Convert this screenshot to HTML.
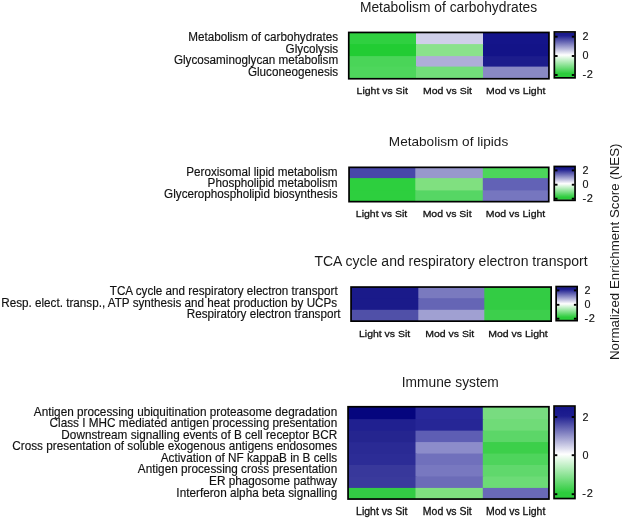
<!DOCTYPE html><html><head><meta charset="utf-8"><style>html,body{margin:0;padding:0;background:#fff;}svg{display:block;filter:blur(0.35px)}text{fill:#111;stroke:#111;stroke-width:0.15px}text.cl{stroke-width:0.3px}text.ti{stroke-width:0;fill:#1a1a1a}</style></head><body>
<svg width="623" height="518" viewBox="0 0 623 518" font-family='"Liberation Sans", sans-serif' >
<defs><linearGradient id="g0" x1="0" y1="0" x2="0" y2="1"><stop offset="0" stop-color="#16168a"/><stop offset="0.0714" stop-color="#1e1e90"/><stop offset="0.5022" stop-color="#ffffff"/><stop offset="0.9152" stop-color="#2ccc3c"/><stop offset="1" stop-color="#2ccc3c"/></linearGradient><linearGradient id="g1" x1="0" y1="0" x2="0" y2="1"><stop offset="0" stop-color="#16168a"/><stop offset="0.0732" stop-color="#1e1e90"/><stop offset="0.5091" stop-color="#ffffff"/><stop offset="0.9207" stop-color="#2ccc3c"/><stop offset="1" stop-color="#2ccc3c"/></linearGradient><linearGradient id="g2" x1="0" y1="0" x2="0" y2="1"><stop offset="0" stop-color="#16168a"/><stop offset="0.0697" stop-color="#1e1e90"/><stop offset="0.5061" stop-color="#ffffff"/><stop offset="0.9121" stop-color="#2ccc3c"/><stop offset="1" stop-color="#2ccc3c"/></linearGradient><linearGradient id="g3" x1="0" y1="0" x2="0" y2="1"><stop offset="0" stop-color="#16168a"/><stop offset="0.1028" stop-color="#1e1e90"/><stop offset="0.5208" stop-color="#ffffff"/><stop offset="0.9420" stop-color="#2ccc3c"/><stop offset="1" stop-color="#2ccc3c"/></linearGradient></defs>
<text class="ti" x="448.5" y="12.0" font-size="13.8" text-anchor="middle">Metabolism of carbohydrates</text>
<text transform="translate(338.2,41.4) scale(1,1.03)" font-size="11.7" text-anchor="end">Metabolism of carbohydrates</text>
<text transform="translate(338.2,53.0) scale(1,1.03)" font-size="11.7" text-anchor="end">Glycolysis</text>
<text transform="translate(338.2,64.4) scale(1,1.03)" font-size="11.7" text-anchor="end">Glycosaminoglycan metabolism</text>
<text transform="translate(338.2,75.6) scale(1,1.03)" font-size="11.7" text-anchor="end">Gluconeogenesis</text>
<rect x="349" y="33" width="68.00" height="45.60" fill="#2fd040"/>
<rect x="416" y="33" width="68.00" height="45.60" fill="#cfcfe9"/>
<rect x="483" y="33" width="66.00" height="45.60" fill="#14148a"/>
<rect x="349" y="44.1" width="68.00" height="34.50" fill="#22cc33"/>
<rect x="416" y="44.1" width="68.00" height="34.50" fill="#8ae28c"/>
<rect x="483" y="44.1" width="66.00" height="34.50" fill="#131388"/>
<rect x="349" y="56.1" width="68.00" height="22.50" fill="#4ad558"/>
<rect x="416" y="56.1" width="68.00" height="22.50" fill="#aeaed8"/>
<rect x="483" y="56.1" width="66.00" height="22.50" fill="#1c1c8c"/>
<rect x="349" y="66.6" width="68.00" height="12.00" fill="#4ed65c"/>
<rect x="416" y="66.6" width="68.00" height="12.00" fill="#72dd7a"/>
<rect x="483" y="66.6" width="66.00" height="12.00" fill="#8989c4"/>
<rect x="348.75" y="32.45" width="200.20" height="46.30" fill="none" stroke="#000" stroke-width="1.7"/>
<text transform="translate(382.20,94) scale(1,0.92)" class="cl" font-size="10.5" text-anchor="middle">Light vs Sit</text>
<text transform="translate(447.40,94) scale(1,0.92)" class="cl" font-size="10.5" text-anchor="middle">Mod vs Sit</text>
<text transform="translate(515.70,94) scale(1,0.92)" class="cl" font-size="10.5" text-anchor="middle">Mod vs Light</text>
<rect x="554.50" y="32.50" width="20.40" height="44.80" fill="url(#g0)"/>
<rect x="554.35" y="31.95" width="20.70" height="45.90" fill="none" stroke="#000" stroke-width="1.7"/>
<line x1="555.0" y1="36.7" x2="557.60" y2="36.7" stroke="#000" stroke-width="1.9"/>
<line x1="571.80" y1="36.7" x2="574.4" y2="36.7" stroke="#000" stroke-width="1.9"/>
<line x1="555.0" y1="56" x2="557.60" y2="56" stroke="#000" stroke-width="1.9"/>
<line x1="571.80" y1="56" x2="574.4" y2="56" stroke="#000" stroke-width="1.9"/>
<line x1="555.0" y1="75" x2="557.60" y2="75" stroke="#000" stroke-width="1.9"/>
<line x1="571.80" y1="75" x2="574.4" y2="75" stroke="#000" stroke-width="1.9"/>
<text x="582.50" y="39.90" font-size="10.8">2</text>
<text x="582.50" y="58.90" font-size="10.8">0</text>
<text x="582.40" y="78.30" font-size="11" letter-spacing="0.7">-2</text>
<text class="ti" x="448.5" y="146" font-size="13.6" text-anchor="middle">Metabolism of lipids</text>
<text transform="translate(337.5,175.6) scale(1,1.03)" font-size="11.7" text-anchor="end">Peroxisomal lipid metabolism</text>
<text transform="translate(337.5,187.4) scale(1,1.03)" font-size="11.7" text-anchor="end">Phospholipid metabolism</text>
<text transform="translate(337.5,198.3) scale(1,1.03)" font-size="11.7" text-anchor="end">Glycerophospholipid biosynthesis</text>
<rect x="349" y="167.5" width="67.30" height="34.00" fill="#4848a9"/>
<rect x="415.3" y="167.5" width="68.50" height="34.00" fill="#9898cc"/>
<rect x="482.8" y="167.5" width="66.20" height="34.00" fill="#4cd65b"/>
<rect x="349" y="178.1" width="67.30" height="23.40" fill="#2dcf3e"/>
<rect x="415.3" y="178.1" width="68.50" height="23.40" fill="#80e080"/>
<rect x="482.8" y="178.1" width="66.20" height="23.40" fill="#6262b6"/>
<rect x="349" y="190.4" width="67.30" height="11.10" fill="#2dcf3e"/>
<rect x="415.3" y="190.4" width="68.50" height="11.10" fill="#56d664"/>
<rect x="482.8" y="190.4" width="66.20" height="11.10" fill="#7676bf"/>
<rect x="349.05" y="167.35" width="199.70" height="34.30" fill="none" stroke="#000" stroke-width="1.7"/>
<text transform="translate(381.50,217.1) scale(1,0.92)" class="cl" font-size="10.5" text-anchor="middle">Light vs Sit</text>
<text transform="translate(447.10,217.1) scale(1,0.92)" class="cl" font-size="10.5" text-anchor="middle">Mod vs Sit</text>
<text transform="translate(515.50,217.1) scale(1,0.92)" class="cl" font-size="10.5" text-anchor="middle">Mod vs Light</text>
<rect x="554.40" y="167.00" width="20.50" height="32.80" fill="url(#g1)"/>
<rect x="554.25" y="166.45" width="20.80" height="33.90" fill="none" stroke="#000" stroke-width="1.7"/>
<line x1="554.9" y1="170.4" x2="557.50" y2="170.4" stroke="#000" stroke-width="1.9"/>
<line x1="571.80" y1="170.4" x2="574.4" y2="170.4" stroke="#000" stroke-width="1.9"/>
<line x1="554.9" y1="184.7" x2="557.50" y2="184.7" stroke="#000" stroke-width="1.9"/>
<line x1="571.80" y1="184.7" x2="574.4" y2="184.7" stroke="#000" stroke-width="1.9"/>
<line x1="554.9" y1="198.7" x2="557.50" y2="198.7" stroke="#000" stroke-width="1.9"/>
<line x1="571.80" y1="198.7" x2="574.4" y2="198.7" stroke="#000" stroke-width="1.9"/>
<text x="582.50" y="173.80" font-size="10.8">2</text>
<text x="582.50" y="187.60" font-size="10.8">0</text>
<text x="582.40" y="201.70" font-size="11" letter-spacing="0.7">-2</text>
<text class="ti" x="451" y="265.8" font-size="14.0" text-anchor="middle">TCA cycle and respiratory electron transport</text>
<text transform="translate(337.7,295.4) scale(1,1.03)" font-size="11.7" text-anchor="end">TCA cycle and respiratory electron transport</text>
<text transform="translate(337.2,306.5) scale(1,1.03)" font-size="11.7" text-anchor="end">Resp. elect. transp., ATP synthesis and heat production by UCPs</text>
<text transform="translate(340.6,318) scale(1,1.03)" font-size="11.7" text-anchor="end">Respiratory electron transport</text>
<rect x="351" y="287" width="68.30" height="34.00" fill="#1a1a8a"/>
<rect x="418.3" y="287" width="67.00" height="34.00" fill="#7a7abf"/>
<rect x="484.3" y="287" width="66.70" height="34.00" fill="#33cc44"/>
<rect x="351" y="298.2" width="68.30" height="22.80" fill="#1a1a8a"/>
<rect x="418.3" y="298.2" width="67.00" height="22.80" fill="#6565b5"/>
<rect x="484.3" y="298.2" width="66.70" height="22.80" fill="#33cc44"/>
<rect x="351" y="309.8" width="68.30" height="11.20" fill="#5050a8"/>
<rect x="418.3" y="309.8" width="67.00" height="11.20" fill="#a0a0d2"/>
<rect x="484.3" y="309.8" width="66.70" height="11.20" fill="#3dcf4c"/>
<rect x="351.05" y="287.05" width="200.10" height="34.10" fill="none" stroke="#000" stroke-width="1.7"/>
<text transform="translate(384.60,337.1) scale(1,0.9)" class="cl" font-size="10.5" text-anchor="middle">Light vs Sit</text>
<text transform="translate(449.70,337.1) scale(1,0.9)" class="cl" font-size="10.5" text-anchor="middle">Mod vs Sit</text>
<text transform="translate(518.00,337.1) scale(1,0.9)" class="cl" font-size="10.5" text-anchor="middle">Mod vs Light</text>
<rect x="556.30" y="287.10" width="20.70" height="33.00" fill="url(#g2)"/>
<rect x="556.15" y="286.55" width="21.00" height="34.10" fill="none" stroke="#000" stroke-width="1.7"/>
<line x1="556.8" y1="290.4" x2="559.40" y2="290.4" stroke="#000" stroke-width="1.9"/>
<line x1="573.90" y1="290.4" x2="576.5" y2="290.4" stroke="#000" stroke-width="1.9"/>
<line x1="556.8" y1="304.8" x2="559.40" y2="304.8" stroke="#000" stroke-width="1.9"/>
<line x1="573.90" y1="304.8" x2="576.5" y2="304.8" stroke="#000" stroke-width="1.9"/>
<line x1="556.8" y1="318.7" x2="559.40" y2="318.7" stroke="#000" stroke-width="1.9"/>
<line x1="573.90" y1="318.7" x2="576.5" y2="318.7" stroke="#000" stroke-width="1.9"/>
<text x="584.60" y="293.70" font-size="10.8">2</text>
<text x="584.60" y="307.70" font-size="10.8">0</text>
<text x="584.50" y="321.60" font-size="11" letter-spacing="0.7">-2</text>
<text class="ti" x="450.3" y="386.8" font-size="13.75" text-anchor="middle">Immune system</text>
<text transform="translate(337.2,415.8) scale(1,1.03)" font-size="11.77" text-anchor="end">Antigen processing ubiquitination proteasome degradation</text>
<text transform="translate(337.2,427.2) scale(1,1.03)" font-size="11.77" text-anchor="end">Class I MHC mediated antigen processing presentation</text>
<text transform="translate(337.2,438.8) scale(1,1.03)" font-size="11.77" text-anchor="end">Downstream signalling events of B cell receptor BCR</text>
<text transform="translate(337.2,450.3) scale(1,1.03)" font-size="11.77" text-anchor="end">Cross presentation of soluble exogenous antigens endosomes</text>
<text transform="translate(337.2,461.8) scale(1,1.03)" font-size="11.77" text-anchor="end">Activation of NF kappaB in B cells</text>
<text transform="translate(337.2,473.4) scale(1,1.03)" font-size="11.77" text-anchor="end">Antigen processing cross presentation</text>
<text transform="translate(337.2,484.8) scale(1,1.03)" font-size="11.77" text-anchor="end">ER phagosome pathway</text>
<text transform="translate(337.2,496.6) scale(1,1.03)" font-size="11.77" text-anchor="end">Interferon alpha beta signalling</text>
<rect x="348" y="406.7" width="68.50" height="92.30" fill="#05057e"/>
<rect x="415.5" y="406.7" width="68.30" height="92.30" fill="#28289a"/>
<rect x="482.8" y="406.7" width="66.20" height="92.30" fill="#78dc80"/>
<rect x="348" y="419.15999999999997" width="68.50" height="79.84" fill="#202090"/>
<rect x="415.5" y="419.15999999999997" width="68.30" height="79.84" fill="#262696"/>
<rect x="482.8" y="419.15999999999997" width="66.20" height="79.84" fill="#70db78"/>
<rect x="348" y="430.62" width="68.50" height="68.38" fill="#25258f"/>
<rect x="415.5" y="430.62" width="68.30" height="68.38" fill="#5e5eb4"/>
<rect x="482.8" y="430.62" width="66.20" height="68.38" fill="#5cd668"/>
<rect x="348" y="442.08" width="68.50" height="56.92" fill="#2a2a94"/>
<rect x="415.5" y="442.08" width="68.30" height="56.92" fill="#8c8cca"/>
<rect x="482.8" y="442.08" width="66.20" height="56.92" fill="#3ccf4a"/>
<rect x="348" y="453.53999999999996" width="68.50" height="45.46" fill="#2c2c96"/>
<rect x="415.5" y="453.53999999999996" width="68.30" height="45.46" fill="#7070bc"/>
<rect x="482.8" y="453.53999999999996" width="66.20" height="45.46" fill="#4ed45c"/>
<rect x="348" y="465.0" width="68.50" height="34.00" fill="#38389b"/>
<rect x="415.5" y="465.0" width="68.30" height="34.00" fill="#7878c0"/>
<rect x="482.8" y="465.0" width="66.20" height="34.00" fill="#60d86c"/>
<rect x="348" y="476.46" width="68.50" height="22.54" fill="#3a3a9c"/>
<rect x="415.5" y="476.46" width="68.30" height="22.54" fill="#6c6cb8"/>
<rect x="482.8" y="476.46" width="66.20" height="22.54" fill="#6cdb76"/>
<rect x="348" y="487.91999999999996" width="68.50" height="11.08" fill="#33cc44"/>
<rect x="415.5" y="487.91999999999996" width="68.30" height="11.08" fill="#80e080"/>
<rect x="482.8" y="487.91999999999996" width="66.20" height="11.08" fill="#6969b8"/>
<rect x="348.05" y="406.75" width="200.90" height="92.30" fill="none" stroke="#000" stroke-width="1.7"/>
<text transform="translate(381.75,515.2) scale(1,0.98)" class="cl" font-size="10.5" text-anchor="middle">Light vs Sit</text>
<text transform="translate(447.30,515.2) scale(1,0.98)" class="cl" font-size="10.5" text-anchor="middle">Mod vs Sit</text>
<text transform="translate(515.60,515.2) scale(1,0.98)" class="cl" font-size="10.5" text-anchor="middle">Mod vs Light</text>
<rect x="554.20" y="406.60" width="20.60" height="91.40" fill="url(#g3)"/>
<rect x="554.05" y="406.05" width="20.90" height="92.50" fill="none" stroke="#000" stroke-width="1.7"/>
<line x1="554.7" y1="417" x2="557.30" y2="417" stroke="#000" stroke-width="1.9"/>
<line x1="571.70" y1="417" x2="574.3" y2="417" stroke="#000" stroke-width="1.9"/>
<line x1="554.7" y1="455.2" x2="557.30" y2="455.2" stroke="#000" stroke-width="1.9"/>
<line x1="571.70" y1="455.2" x2="574.3" y2="455.2" stroke="#000" stroke-width="1.9"/>
<line x1="554.7" y1="494.2" x2="557.30" y2="494.2" stroke="#000" stroke-width="1.9"/>
<line x1="571.70" y1="494.2" x2="574.3" y2="494.2" stroke="#000" stroke-width="1.9"/>
<text x="582.40" y="421.00" font-size="10.8">2</text>
<text x="582.40" y="459.00" font-size="10.8">0</text>
<text x="582.30" y="497.20" font-size="11" letter-spacing="0.7">-2</text>
<text class="ti" transform="translate(619.2,360) rotate(-90)" font-size="13.3">Normalized Enrichment Score (NES)</text>
</svg></body></html>
